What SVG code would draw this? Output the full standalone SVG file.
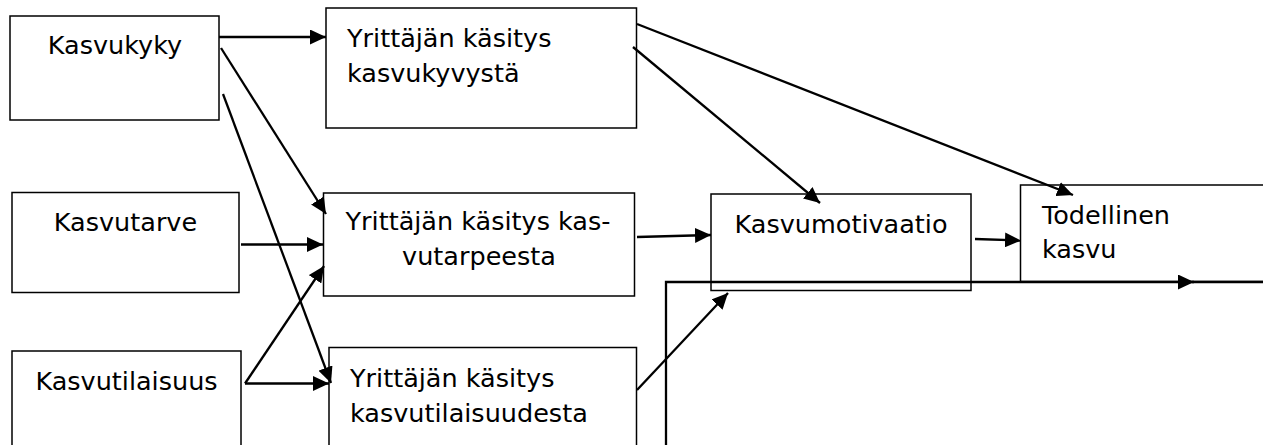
<svg xmlns="http://www.w3.org/2000/svg" width="1263" height="445" viewBox="0 0 1263 445">
  <style>
    .box { fill: #fff; stroke: #000; stroke-width: 1.5; }
    .lbl { font-family: "DejaVu Sans", Verdana, sans-serif; font-size: 25.5px; fill: #000; }
    .mid { text-anchor: middle; }
    .con { fill: none; stroke: #000; stroke-width: 2.3; }
  </style>
  <defs>
    <marker id="ah" markerWidth="16" markerHeight="15" refX="16" refY="7.5" orient="auto" markerUnits="userSpaceOnUse">
      <path d="M0,0 L16,7.5 L0,15 z" fill="#000"/>
    </marker>
  </defs>

  <!-- nodes -->
  <g id="kasvukyky">
    <rect class="box" x="10" y="16" width="209" height="104"/>
    <text class="lbl mid" x="115" y="54">Kasvukyky</text>
  </g>
  <g id="kasvutarve">
    <rect class="box" x="12" y="192.5" width="227" height="100"/>
    <text class="lbl mid" x="125.5" y="231">Kasvutarve</text>
  </g>
  <g id="kasvutilaisuus">
    <rect class="box" x="12" y="351" width="229" height="120"/>
    <text class="lbl mid" x="126.5" y="390">Kasvutilaisuus</text>
  </g>
  <g id="kasitys-kasvukyky">
    <rect class="box" x="326" y="8" width="310.5" height="120"/>
    <text class="lbl" x="347" y="47">Yrittäjän käsitys</text>
    <text class="lbl" x="347" y="82">kasvukyvystä</text>
  </g>
  <g id="kasitys-kasvutarve">
    <rect class="box" x="323.5" y="193" width="311" height="103"/>
    <text class="lbl mid" x="478" y="230">Yrittäjän käsitys kas-</text>
    <text class="lbl mid" x="479" y="265">vutarpeesta</text>
  </g>
  <g id="kasitys-kasvutilaisuus">
    <rect class="box" x="329" y="347.5" width="307.5" height="120"/>
    <text class="lbl" x="350" y="387">Yrittäjän käsitys</text>
    <text class="lbl" x="350" y="422">kasvutilaisuudesta</text>
  </g>
  <g id="kasvumotivaatio">
    <rect class="box" x="711" y="194" width="260" height="96.5"/>
    <text class="lbl mid" x="841" y="233">Kasvumotivaatio</text>
  </g>
  <g id="todellinen-kasvu">
    <rect class="box" x="1020.5" y="185" width="260" height="96.5"/>
    <text class="lbl" x="1042" y="224">Todellinen</text>
    <text class="lbl" x="1042" y="258">kasvu</text>
  </g>

  <!-- connectors -->
  <g id="connectors">
    <line class="con" x1="219" y1="37" x2="326" y2="37" marker-end="url(#ah)"/>
    <line class="con" x1="221" y1="48" x2="326" y2="214" marker-end="url(#ah)"/>
    <line class="con" x1="223" y1="94" x2="331" y2="383" marker-end="url(#ah)"/>
    <line class="con" x1="241" y1="244.5" x2="323" y2="244.5" marker-end="url(#ah)"/>
    <line class="con" x1="245" y1="383.5" x2="324" y2="266" marker-end="url(#ah)"/>
    <line class="con" x1="245" y1="383.5" x2="329" y2="383.5" marker-end="url(#ah)"/>
    <line class="con" x1="633" y1="47" x2="820" y2="203" marker-end="url(#ah)"/>
    <line class="con" x1="637" y1="24" x2="1073" y2="195" marker-end="url(#ah)"/>
    <line class="con" x1="637" y1="237" x2="711" y2="235" marker-end="url(#ah)"/>
    <line class="con" x1="975" y1="239" x2="1021" y2="240.5" marker-end="url(#ah)"/>
    <line class="con" x1="637" y1="390" x2="728" y2="293" marker-end="url(#ah)"/>
    <path class="con" d="M666,445 V282 H1194" marker-end="url(#ah)"/>
    <line class="con" x1="1192" y1="282" x2="1263" y2="282"/>
  </g>
</svg>
